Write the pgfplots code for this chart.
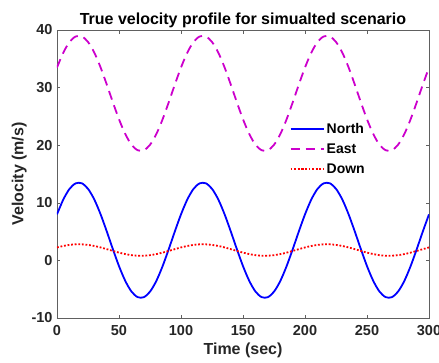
\documentclass[border=0pt]{standalone}
\usepackage{fontspec}
\setmainfont{Liberation Sans}
\usepackage{pgfplots}
\pgfplotsset{compat=1.18}
\definecolor{eastc}{rgb}{0.8,0,0.8}
\begin{document}
\begin{tikzpicture}
\begin{axis}[
  at={(0pt,0pt)}, anchor=south west,
  scale only axis,
  width=372pt, height=288pt,
  xmin=0, xmax=300, ymin=-10, ymax=40,
  xtick={0,50,...,300}, ytick={-10,0,...,40},
  tick align=inside,
  major tick length=3.5pt,
  axis line style={gray!75!black, line width=0.6pt},
  tick style={gray!75!black, line width=0.6pt},
  /pgf/number format/assume math mode=true,
  ticklabel style={font=\bfseries\fontsize{14.5}{16}\selectfont, text=black!85},
  xticklabel style={yshift=-4pt},
  yticklabel style={xshift=-1pt},
  xlabel={Time (sec)}, ylabel={Velocity (m/s)},
  label style={font=\bfseries\fontsize{16}{18}\selectfont, text=black!85},
  title={True velocity profile for simualted scenario},
  title style={font=\bfseries\fontsize{16}{18}\selectfont, yshift=-7pt},
  xlabel style={yshift=0pt},
  ylabel style={yshift=-2pt},
  legend style={draw=none, fill=none, at={(axis cs:185,24.6)}, anchor=north west,
    font=\bfseries\fontsize{14}{16}\selectfont, row sep=5pt},
  legend cell align=left,
  legend image post style={xscale=1.95},
]
\addplot[blue, line width=1.8pt, smooth] coordinates {
(0,7.99)(5,10.53)(10,12.39)(15,13.37)(20,13.39)(25,12.43)(30,10.61)(35,8.09)(40,5.12)(45,1.99)
(50,-0.99)(55,-3.53)(60,-5.39)(65,-6.37)(70,-6.39)(75,-5.43)(80,-3.61)(85,-1.09)(90,1.88)(95,5.01)
(100,7.99)(105,10.53)(110,12.39)(115,13.37)(120,13.39)(125,12.43)(130,10.61)(135,8.09)(140,5.12)(145,1.99)
(150,-0.99)(155,-3.53)(160,-5.39)(165,-6.37)(170,-6.39)(175,-5.43)(180,-3.61)(185,-1.09)(190,1.88)(195,5.01)
(200,7.99)(205,10.53)(210,12.39)(215,13.37)(220,13.39)(225,12.43)(230,10.61)(235,8.09)(240,5.12)(245,1.99)
(250,-0.99)(255,-3.53)(260,-5.39)(265,-6.37)(270,-6.39)(275,-5.43)(280,-3.61)(285,-1.09)(290,1.88)(295,5.01)
(300,7.99)
};
\addlegendentry{North}
\addplot[eastc, line width=1.8pt, dash pattern=on 9pt off 6pt, smooth] coordinates {
(0,33.49)(5,36.03)(10,37.89)(15,38.87)(20,38.89)(25,37.93)(30,36.11)(35,33.59)(40,30.62)(45,27.49)
(50,24.51)(55,21.97)(60,20.11)(65,19.13)(70,19.11)(75,20.07)(80,21.89)(85,24.41)(90,27.38)(95,30.51)
(100,33.49)(105,36.03)(110,37.89)(115,38.87)(120,38.89)(125,37.93)(130,36.11)(135,33.59)(140,30.62)(145,27.49)
(150,24.51)(155,21.97)(160,20.11)(165,19.13)(170,19.11)(175,20.07)(180,21.89)(185,24.41)(190,27.38)(195,30.51)
(200,33.49)(205,36.03)(210,37.89)(215,38.87)(220,38.89)(225,37.93)(230,36.11)(235,33.59)(240,30.62)(245,27.49)
(250,24.51)(255,21.97)(260,20.11)(265,19.13)(270,19.11)(275,20.07)(280,21.89)(285,24.41)(290,27.38)(295,30.51)
(300,33.49)
};
\addlegendentry{East}
\addplot[red, line width=1.8pt, dash pattern=on 1.8pt off 1.8pt, smooth] coordinates {
(0,2.25)(5,2.50)(10,2.69)(15,2.79)(20,2.79)(25,2.69)(30,2.51)(35,2.26)(40,1.96)(45,1.65)
(50,1.35)(55,1.10)(60,0.91)(65,0.81)(70,0.81)(75,0.91)(80,1.09)(85,1.34)(90,1.64)(95,1.95)
(100,2.25)(105,2.50)(110,2.69)(115,2.79)(120,2.79)(125,2.69)(130,2.51)(135,2.26)(140,1.96)(145,1.65)
(150,1.35)(155,1.10)(160,0.91)(165,0.81)(170,0.81)(175,0.91)(180,1.09)(185,1.34)(190,1.64)(195,1.95)
(200,2.25)(205,2.50)(210,2.69)(215,2.79)(220,2.79)(225,2.69)(230,2.51)(235,2.26)(240,1.96)(245,1.65)
(250,1.35)(255,1.10)(260,0.91)(265,0.81)(270,0.81)(275,0.91)(280,1.09)(285,1.34)(290,1.64)(295,1.95)
(300,2.25)
};
\addlegendentry{Down}
\end{axis}
\pgfresetboundingbox
\path[use as bounding box] (-57pt,-44pt) rectangle (382pt,318pt);
\end{tikzpicture}
\end{document}
